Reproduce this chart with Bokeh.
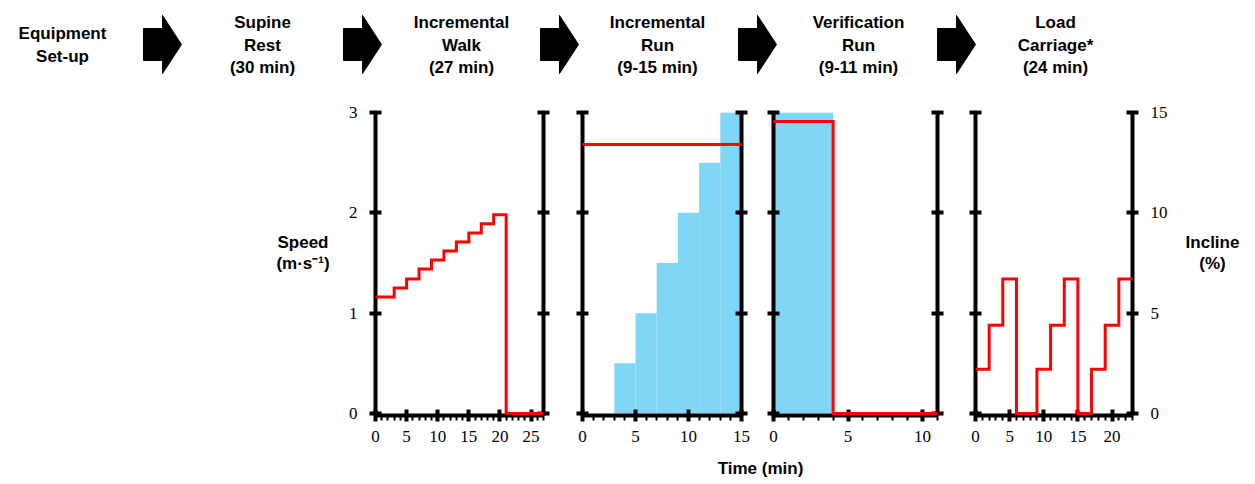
from bokeh.plotting import figure
from bokeh.models import (Range1d, LinearAxis, SingleIntervalTicker, FixedTicker,
                          CustomJSTickFormatter)
from bokeh.layouts import column, row
from bokeh.embed import file_html
from bokeh.resources import INLINE
from bokeh.core.properties import value

# ---------------- data ----------------
stage_lines = [
    ["Equipment", "Set-up"],
    ["Supine", "Rest", "(30 min)"],
    ["Incremental", "Walk", "(27 min)"],
    ["Incremental", "Run", "(9-15 min)"],
    ["Verification", "Run", "(9-11 min)"],
    ["Load", "Carriage*", "(24 min)"],
]

# Incremental walk: speed (m/s) step changes
walk_time = [0, 3, 5, 7, 9, 11, 13, 15, 17, 19, 21, 27]
walk_speed = [1.16, 1.25, 1.34, 1.44, 1.53, 1.62, 1.71, 1.80, 1.89, 1.98, 0, 0]

# Incremental run: constant speed, incline stages
run_time = [0, 15]
run_speed = [2.68, 2.68]
run_stage_start = [3, 5, 7, 9, 11, 13]
run_stage_end = [5, 7, 9, 11, 13, 15]
run_incline = [2.5, 5.0, 7.5, 10.0, 12.5, 15.0]

# Verification run
ver_time = [0, 4, 11]
ver_speed = [2.91, 0, 0]
ver_stage_start = [0]
ver_stage_end = [4]
ver_incline = [15.0]

# Load carriage: incline (%)
load_time = [0, 2, 4, 6, 9, 11, 13, 15, 17, 19, 21, 23]
load_incline = [2.2, 4.4, 6.7, 0, 2.2, 4.4, 6.7, 0, 2.2, 4.4, 6.7, 6.7]

speed_ticks = [0, 1, 2, 3]
incline_ticks = [0, 5, 10, 15]
x_max = [27, 15, 11, 23]

# ---------------- style ----------------
RED = "#FF0000"
BLUE = "#80D6F6"
SANS = "Liberation Sans"
SERIF = "Liberation Serif"
TOTAL_W = 1250
HEAD_H = 100
PANEL_H = 353
FOOT_H = 29
TOP = 12
FRAME_H = 303
EPS = 0.02  # ~2px below zero so the zero line is not clipped

BLANK = CustomJSTickFormatter(code="return ''")


def style_axis(ax, labels, side):
    ax.axis_line_width = 4
    ax.axis_line_color = "black"
    ax.major_tick_line_width = 4
    ax.major_tick_in = 6
    ax.major_tick_out = 6
    ax.major_tick_line_cap = "butt"
    ax.major_label_text_font = SERIF
    ax.major_label_text_color = "black"
    ax.major_label_text_font_size = "17px"
    if labels:
        ax.major_label_standoff = 9 if side == "below" else 12
    else:
        ax.formatter = CustomJSTickFormatter(code="return ''")
        ax.major_label_standoff = 0


def panel(xmax, width, left, right, left_labels=False, right_labels=False):
    p = figure(width=width, height=PANEL_H,
               x_range=Range1d(0, xmax), y_range=Range1d(-EPS, 3),
               output_backend="svg", toolbar_location=None,
               x_axis_type=None, y_axis_type=None,
               min_border_left=left, min_border_right=right,
               min_border_top=TOP, min_border_bottom=PANEL_H - TOP - FRAME_H)
    p.extra_y_ranges = {"incl": Range1d(-EPS * 5, 15)}
    p.outline_line_color = None
    p.background_fill_color = "white"
    p.border_fill_color = "white"

    xa = LinearAxis(ticker=SingleIntervalTicker(interval=5, num_minor_ticks=5))
    style_axis(xa, True, "below")
    xa.minor_tick_in = 0
    xa.minor_tick_out = 5
    xa.minor_tick_line_width = 2
    p.add_layout(xa, "below")

    ya = LinearAxis(ticker=FixedTicker(ticks=speed_ticks))
    style_axis(ya, left_labels, "left")
    ya.minor_tick_line_color = None
    p.add_layout(ya, "left")

    yb = LinearAxis(y_range_name="incl", ticker=FixedTicker(ticks=incline_ticks))
    style_axis(yb, right_labels, "right")
    yb.minor_tick_line_color = None
    p.add_layout(yb, "right")
    return p


def blank_fig(width, height):
    f = figure(width=width, height=height, x_range=Range1d(0, width),
               y_range=Range1d(height, 0), output_backend="svg",
               toolbar_location=None, x_axis_type=None, y_axis_type=None,
               min_border=0)
    f.outline_line_color = None
    f.grid.visible = False
    return f


txt_kw = dict(text_font=value(SANS), text_font_style="bold",
              text_font_size="17px", text_align="center",
              text_baseline="middle", text_color="black")

# panel frames (page px): P1 375-543, P2 582-741, P3 773-937, P4 975-1133
left_sp = blank_fig(336, PANEL_H)
p1 = panel(x_max[0], 224, 39, 17, left_labels=True)
p2 = panel(x_max[1], 198, 22, 17)
p3 = panel(x_max[2], 197, 15, 18)
p4 = panel(x_max[3], 215, 20, 37, right_labels=True)
right_sp = blank_fig(TOTAL_W - 1170, PANEL_H)

line_kw = dict(line_color=RED, line_width=3, line_join="miter", level="overlay")

p1.step(walk_time, walk_speed, mode="after", **line_kw)

p2.quad(left=run_stage_start, right=run_stage_end, bottom=0, top=run_incline,
        y_range_name="incl", fill_color=BLUE, line_color=None)
p2.line(run_time, run_speed, **line_kw)

p3.quad(left=ver_stage_start, right=ver_stage_end, bottom=0, top=ver_incline,
        y_range_name="incl", fill_color=BLUE, line_color=None)
p3.step(ver_time, ver_speed, mode="after", **line_kw)

p4.step(load_time, load_incline, mode="after", y_range_name="incl", **line_kw)

# side axis titles (page y 252 / 276)
left_sp.text(x=[302.5, 302.5], y=[252 - HEAD_H, 276 - HEAD_H],
             text=["Speed", "(m·s⁻¹)"], **txt_kw)
right_sp.text(x=[1212 - 1170, 1212 - 1170], y=[252 - HEAD_H, 276 - HEAD_H],
              text=["Incline", "(%)"], **txt_kw)

# ---------------- header ----------------
head = blank_fig(TOTAL_W, HEAD_H)
centers = [62, 262, 461, 657, 858, 1055]
tx, ty, tt = [], [], []
for c, lines in zip(centers, stage_lines):
    n = len(lines)
    mid = 44.5
    for i, s in enumerate(lines):
        tx.append(c)
        ty.append(mid + (i - (n - 1) / 2) * 22.5)
        tt.append(s)
head.text(x=tx, y=ty, text=tt, **txt_kw)

arrow_left = [143, 343, 540, 738, 937]
axs, ays = [], []
for a in arrow_left:
    axs.append([a, a + 19, a + 19, a + 38, a + 19, a + 19, a])
    ays.append([28, 28, 15, 44, 73, 60, 60])
head.patches(axs, ays, fill_color="black", line_color="black", line_width=1)

# ---------------- footer ----------------
foot = blank_fig(TOTAL_W, FOOT_H)
foot.text(x=[760], y=[468 - HEAD_H - PANEL_H], text=["Time (min)"], **txt_kw)

layout = column(head, row(left_sp, p1, p2, p3, p4, right_sp, spacing=0),
                foot, spacing=0)

open("out.html", "w").write(file_html(layout, INLINE))
